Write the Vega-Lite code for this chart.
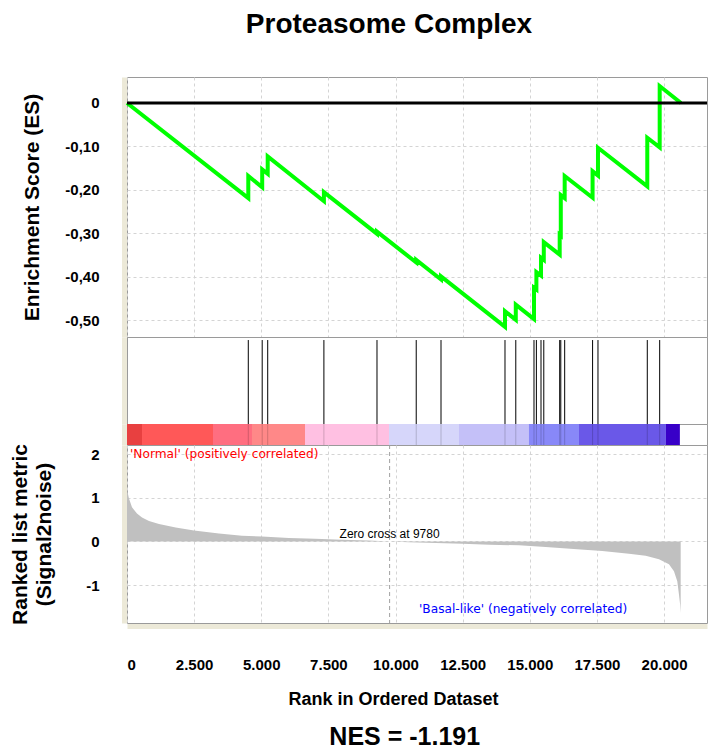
{
  "$schema": "https://vega.github.io/schema/vega-lite/v6.json",
  "background": "white",
  "padding": {"left": 8, "top": 10, "right": 0, "bottom": 0},
  "spacing": 0,
  "bounds": "flush",
  "title": {"text": "NES = -1.191", "orient": "bottom", "fontSize": 25, "font": "Liberation Sans", "fontWeight": "bold", "color": "black", "anchor": "middle", "offset": 16, "dx": 46},
  "config": {
    "font": "Liberation Sans",
    "view": {"stroke": "#9a9a9a", "strokeWidth": 1},
    "axis": {"gridColor": "#d4d4d4", "gridDash": [3, 3], "gridWidth": 1, "labelFont": "Liberation Sans", "titleFont": "Liberation Sans"}
  },
  "datasets": {
    "es": [
      {"i": 0, "rank": 0, "es": 0},
      {"i": 1, "rank": 4517, "es": -0.219},
      {"i": 2, "rank": 4517, "es": -0.168},
      {"i": 3, "rank": 5035, "es": -0.194},
      {"i": 4, "rank": 5035, "es": -0.153},
      {"i": 5, "rank": 5240, "es": -0.163},
      {"i": 6, "rank": 5240, "es": -0.123},
      {"i": 7, "rank": 7333, "es": -0.226},
      {"i": 8, "rank": 7333, "es": -0.205},
      {"i": 9, "rank": 9310, "es": -0.301},
      {"i": 10, "rank": 9310, "es": -0.296},
      {"i": 11, "rank": 10771, "es": -0.367},
      {"i": 12, "rank": 10771, "es": -0.361},
      {"i": 13, "rank": 11694, "es": -0.406},
      {"i": 14, "rank": 11694, "es": -0.399},
      {"i": 15, "rank": 14077, "es": -0.515},
      {"i": 16, "rank": 14077, "es": -0.479},
      {"i": 17, "rank": 14479, "es": -0.499},
      {"i": 18, "rank": 14479, "es": -0.464},
      {"i": 19, "rank": 15157, "es": -0.497},
      {"i": 20, "rank": 15157, "es": -0.425},
      {"i": 21, "rank": 15246, "es": -0.429},
      {"i": 22, "rank": 15246, "es": -0.389},
      {"i": 23, "rank": 15418, "es": -0.397},
      {"i": 24, "rank": 15418, "es": -0.356},
      {"i": 25, "rank": 15522, "es": -0.361},
      {"i": 26, "rank": 15522, "es": -0.32},
      {"i": 27, "rank": 16114, "es": -0.349},
      {"i": 28, "rank": 16114, "es": -0.303},
      {"i": 29, "rank": 16155, "es": -0.305},
      {"i": 30, "rank": 16155, "es": -0.212},
      {"i": 31, "rank": 16300, "es": -0.219},
      {"i": 32, "rank": 16300, "es": -0.168},
      {"i": 33, "rank": 17339, "es": -0.218},
      {"i": 34, "rank": 17339, "es": -0.157},
      {"i": 35, "rank": 17540, "es": -0.167},
      {"i": 36, "rank": 17540, "es": -0.103},
      {"i": 37, "rank": 19376, "es": -0.192},
      {"i": 38, "rank": 19376, "es": -0.08},
      {"i": 39, "rank": 19838, "es": -0.102},
      {"i": 40, "rank": 19838, "es": 0.039},
      {"i": 41, "rank": 20630, "es": 0}
    ],
    "hits": [
      {"rank": 4517}, {"rank": 5035}, {"rank": 5240}, {"rank": 7333}, {"rank": 9310},
      {"rank": 10771}, {"rank": 11694}, {"rank": 14077}, {"rank": 14479}, {"rank": 15157},
      {"rank": 15246}, {"rank": 15418}, {"rank": 15522}, {"rank": 16114}, {"rank": 16155},
      {"rank": 16300}, {"rank": 17339}, {"rank": 17540}, {"rank": 19376}, {"rank": 19838}
    ],
    "bar": [
      {"x0": 0, "x1": 559, "c": "#e84040"},
      {"x0": 559, "x1": 3203, "c": "#ff5858"},
      {"x0": 3203, "x1": 4655, "c": "#ff6e80"},
      {"x0": 4655, "x1": 6629, "c": "#ff8888"},
      {"x0": 6629, "x1": 9757, "c": "#ffc0e2"},
      {"x0": 9757, "x1": 12364, "c": "#d6d6fa"},
      {"x0": 12364, "x1": 14970, "c": "#c4c0f8"},
      {"x0": 14970, "x1": 16832, "c": "#8888f8"},
      {"x0": 16832, "x1": 20072, "c": "#6a58e8"},
      {"x0": 20072, "x1": 20590, "c": "#3800c8"}
    ],
    "metric": [
      {"rank": 0, "m": 1.17},
      {"rank": 30, "m": 1.1},
      {"rank": 74, "m": 0.98},
      {"rank": 186, "m": 0.78},
      {"rank": 372, "m": 0.64},
      {"rank": 559, "m": 0.55},
      {"rank": 819, "m": 0.47},
      {"rank": 1192, "m": 0.4},
      {"rank": 1813, "m": 0.32},
      {"rank": 2495, "m": 0.25},
      {"rank": 3426, "m": 0.18},
      {"rank": 4283, "m": 0.13},
      {"rank": 5027, "m": 0.11},
      {"rank": 6033, "m": 0.08},
      {"rank": 7000, "m": 0.06},
      {"rank": 8000, "m": 0.04},
      {"rank": 9000, "m": 0.02},
      {"rank": 9780, "m": 0},
      {"rank": 10500, "m": -0.02},
      {"rank": 11500, "m": -0.035},
      {"rank": 12500, "m": -0.055},
      {"rank": 13500, "m": -0.075},
      {"rank": 14598, "m": -0.09},
      {"rank": 15592, "m": -0.13},
      {"rank": 16769, "m": -0.18},
      {"rank": 17700, "m": -0.22},
      {"rank": 18694, "m": -0.28},
      {"rank": 19316, "m": -0.33},
      {"rank": 19812, "m": -0.41},
      {"rank": 20184, "m": -0.52},
      {"rank": 20370, "m": -0.68},
      {"rank": 20493, "m": -0.91},
      {"rank": 20555, "m": -1.21},
      {"rank": 20600, "m": -1.45},
      {"rank": 20620, "m": -1.64}
    ],
    "notes": [
      {"rank": 112, "m": 1.99, "label": "'Normal' (positively correlated)", "kind": "pos"},
      {"rank": 10874, "m": -1.55, "label": "'Basal-like' (negatively correlated)", "kind": "neg"},
      {"rank": 9780, "m": 0.17, "label": "Zero cross at 9780", "kind": "zero"}
    ]
  },
  "vconcat": [
    {
      "width": 580,
      "height": 260,
      "title": {"text": "Proteasome Complex", "fontSize": 28, "fontWeight": "bold", "color": "black", "offset": 38, "anchor": "middle", "dx": -28},
      "layer": [
        {
          "data": {"name": "es"},
          "mark": {"type": "line", "color": "#00ff00", "strokeWidth": 4},
          "encoding": {
            "x": {"field": "rank", "type": "quantitative", "scale": {"domain": [0, 21600], "nice": false, "zero": false},
                  "axis": {"values": [0, 2500, 5000, 7500, 10000, 12500, 15000, 17500, 20000], "labels": false, "ticks": false, "domain": false, "title": null, "grid": true}},
            "y": {"field": "es", "type": "quantitative", "scale": {"domain": [-0.5384, 0.0598], "nice": false, "zero": false},
                  "axis": {"values": [-0.5, -0.4, -0.3, -0.2, -0.1, 0],
                           "labelExpr": "datum.value == 0 ? '0' : '-' + replace(format(abs(datum.value), '.2f'), '.', ',')",
                           "title": "Enrichment Score (ES)", "titleFontSize": 21, "titleFontWeight": "bold", "titleColor": "black",
                           "labelFontSize": 15, "labelFontWeight": "bold", "labelColor": "black",
                           "ticks": false, "labelPadding": 25, "offset": 3, "domainColor": "#ece9d8", "domainWidth": 5,
                           "minExtent": 62, "maxExtent": 62, "titlePadding": 20, "grid": true}},
            "order": {"field": "i", "type": "quantitative"}
          }
        },
        {
          "data": {"values": [{}]},
          "mark": {"type": "rule", "color": "black", "strokeWidth": 3},
          "encoding": {"y": {"datum": 0}}
        }
      ]
    },
    {
      "width": 580,
      "height": 87,
      "data": {"name": "hits"},
      "mark": {"type": "rule", "color": "black", "strokeWidth": 1},
      "encoding": {
        "x": {"field": "rank", "type": "quantitative", "scale": {"domain": [0, 21600], "nice": false, "zero": false}, "axis": null},
        "y": {"datum": 0.965, "type": "quantitative", "scale": {"domain": [0, 1], "nice": false},
              "axis": {"labels": false, "ticks": false, "grid": false, "title": null, "offset": 3, "domainColor": "#ece9d8", "domainWidth": 5, "minExtent": 62, "maxExtent": 62}},
        "y2": {"datum": 0}
      }
    },
    {
      "width": 580,
      "height": 21,
      "layer": [
        {
          "data": {"name": "bar"},
          "mark": {"type": "rect"},
          "encoding": {
            "x": {"field": "x0", "type": "quantitative", "scale": {"domain": [0, 21600], "nice": false, "zero": false}, "axis": null},
            "x2": {"field": "x1"},
            "y": {"datum": 1, "type": "quantitative", "scale": {"domain": [0, 1], "nice": false},
                  "axis": {"labels": false, "ticks": false, "grid": false, "title": null, "offset": 3, "domainColor": "#ece9d8", "domainWidth": 5, "minExtent": 62, "maxExtent": 62}},
            "y2": {"datum": 0},
            "color": {"field": "c", "type": "nominal", "scale": null}
          }
        },
        {
          "data": {"name": "hits"},
          "mark": {"type": "rule", "color": "#000000", "strokeWidth": 1, "opacity": 0.18},
          "encoding": {
            "x": {"field": "rank", "type": "quantitative"},
            "y": {"datum": 1},
            "y2": {"datum": 0}
          }
        }
      ]
    },
    {
      "width": 580,
      "height": 178,
      "layer": [
        {
          "data": {"name": "metric"},
          "mark": {"type": "area", "color": "#c0c0c0", "interpolate": "linear"},
          "encoding": {
            "x": {"field": "rank", "type": "quantitative", "scale": {"domain": [0, 21600], "nice": false, "zero": false},
                  "axis": {"values": [0, 2500, 5000, 7500, 10000, 12500, 15000, 17500, 20000],
                           "labelExpr": "replace(format(datum.value, ','), ',', '.')",
                           "labelFontSize": 15, "labelFontWeight": "bold", "labelColor": "black",
                           "ticks": false, "labelPadding": 31, "offset": 3, "domainColor": "#ece9d8", "domainWidth": 5,
                           "title": "Rank in Ordered Dataset", "titleFontSize": 18, "titleFontWeight": "bold", "titleColor": "black",
                           "titlePadding": 18, "titleX": 266, "grid": true}},
            "y": {"field": "m", "type": "quantitative", "scale": {"domain": [-1.867, 2.207], "nice": false, "zero": false},
                  "axis": {"values": [-1, 0, 1, 2], "labelExpr": "datum.value + ''",
                           "title": ["Ranked list metric", "(Signal2noise)"], "titleFontSize": 21, "titleFontWeight": "bold", "titleColor": "black", "titleLineHeight": 24,
                           "labelFontSize": 15, "labelFontWeight": "bold", "labelColor": "black",
                           "ticks": false, "labelPadding": 25, "offset": 3, "domainColor": "#ece9d8", "domainWidth": 5,
                           "minExtent": 62, "maxExtent": 62, "titlePadding": 8, "grid": true}},
            "y2": {"datum": 0}
          }
        },
        {
          "data": {"values": [{"z": 9780}]},
          "mark": {"type": "rule", "color": "#a0a0a0", "strokeWidth": 1, "strokeDash": [4, 3]},
          "encoding": {"x": {"field": "z", "type": "quantitative"}}
        },
        {
          "data": {"name": "notes"},
          "transform": [{"filter": "datum.kind == 'pos'"}],
          "mark": {"type": "text", "color": "#ff0000", "font": "DejaVu Sans", "fontSize": 12.2, "align": "left", "baseline": "middle"},
          "encoding": {"x": {"field": "rank", "type": "quantitative"}, "y": {"field": "m", "type": "quantitative"}, "text": {"field": "label"}}
        },
        {
          "data": {"name": "notes"},
          "transform": [{"filter": "datum.kind == 'neg'"}],
          "mark": {"type": "text", "color": "#0000ff", "font": "DejaVu Sans", "fontSize": 12.2, "align": "left", "baseline": "middle"},
          "encoding": {"x": {"field": "rank", "type": "quantitative"}, "y": {"field": "m", "type": "quantitative"}, "text": {"field": "label"}}
        },
        {
          "data": {"name": "notes"},
          "transform": [{"filter": "datum.kind == 'zero'"}],
          "mark": {"type": "text", "color": "#000000", "font": "Liberation Sans", "fontSize": 12, "align": "center", "baseline": "middle"},
          "encoding": {"x": {"field": "rank", "type": "quantitative"}, "y": {"field": "m", "type": "quantitative"}, "text": {"field": "label"}}
        }
      ]
    }
  ]
}
